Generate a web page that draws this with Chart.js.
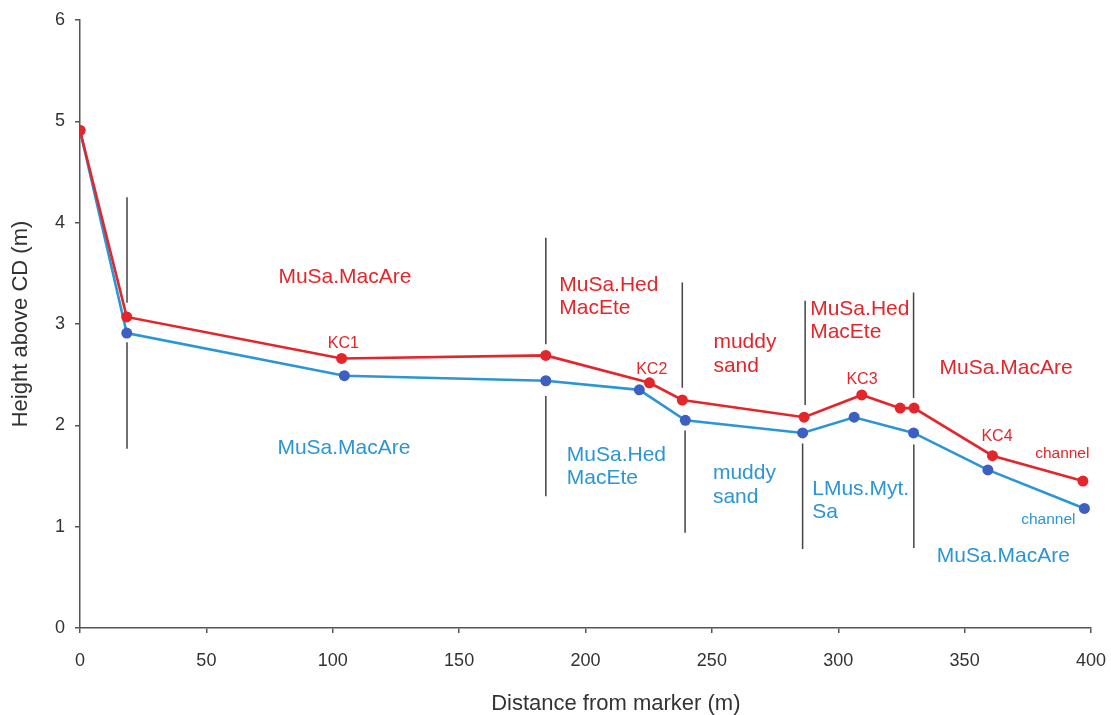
<!DOCTYPE html>
<html>
<head>
<meta charset="utf-8">
<script src="https://cdn.jsdelivr.net/npm/chart.js@4.4.1/dist/chart.umd.min.js"></script>
<style>
  html, body { margin: 0; padding: 0; background: #fff; }
  #wrap { width: 1111px; height: 715px; }
</style>
</head>
<body>
<div id="wrap"><canvas id="profile" width="1111" height="715"></canvas></div>
<script>
// two survey lines: distance from marker (m) and height above CD (m)
var redDist = [0, 18.5, 103.5, 184.3, 225.3, 238.3, 286.5, 309.3, 324.5, 330, 361, 396.8];
var redHeight = [4.91, 3.07, 2.66, 2.69, 2.42, 2.25, 2.08, 2.30, 2.17, 2.17, 1.70, 1.45];
var blueDist = [0, 18.5, 104.6, 184.3, 221.3, 239.5, 285.9, 306.3, 329.8, 359.2, 397.4];
var blueHeight = [4.91, 2.91, 2.49, 2.44, 2.35, 2.05, 1.925, 2.08, 1.925, 1.56, 1.18];

// vertical zone dividers (upper part above red line, lower part below blue line)
var sepUpperX = [18.6, 184.3, 238.3, 286.9, 329.8];
var sepUpperTop = [4.25, 3.85, 3.41, 3.23, 3.31];
var sepUpperBottom = [3.21, 2.80, 2.37, 2.20, 2.27];
var sepLowerX = [18.6, 184.3, 239.4, 285.9, 329.9];
var sepLowerTop = [2.82, 2.29, 1.95, 1.82, 1.81];
var sepLowerBottom = [1.77, 1.30, 0.94, 0.78, 0.79];

// habitat labels (left edge x, first line centre y, in data units)
var redZoneText = ['MuSa.MacAre', 'MuSa.Hed\nMacEte', 'muddy\nsand', 'MuSa.Hed\nMacEte', 'MuSa.MacAre'];
var redZoneX = [78.5, 189.6, 250.6, 288.9, 340.1];
var redZoneY = [3.478, 3.406, 2.836, 3.169, 2.582];
var blueZoneText = ['MuSa.MacAre', 'MuSa.Hed\nMacEte', 'muddy\nsand', 'LMus.Myt.\nSa', 'MuSa.MacAre'];
var blueZoneX = [78.1, 192.6, 250.4, 289.7, 339.0];
var blueZoneY = [1.798, 1.728, 1.546, 1.392, 0.726];

// core sample labels (centred)
var coreText = ['KC1', 'KC2', 'KC3', 'KC4'];
var coreX = [104.2, 226.2, 309.4, 362.8];
var coreY = [2.83, 2.567, 2.467, 1.908];

// channel labels (left edge)
var channelText = ['channel', 'channel'];
var channelX = [377.9, 372.4];
var channelY = [1.737, 1.086];

var xTitle = 'Distance from marker (m)';
var xTitleCentre = 212;

var redColor = '#e3262b';
var blueLine = '#2b95d5';
var blueDot = '#3d5fc1';
var fontFam = '"Liberation Sans", Arial, Helvetica, sans-serif';

function toPoints(xs, ys) {
  return xs.map(function(x, i) { return {x: x, y: ys[i]}; });
}

var datasets = [
  {
    label: 'red',
    data: toPoints(redDist, redHeight),
    borderColor: redColor,
    backgroundColor: redColor,
    pointBackgroundColor: redColor,
    borderWidth: 2.6,
    pointRadius: 5.5,
    pointBorderWidth: 0,
    tension: 0
  },
  {
    label: 'blue',
    data: toPoints(blueDist, blueHeight),
    borderColor: blueLine,
    backgroundColor: blueDot,
    pointBackgroundColor: blueDot,
    borderWidth: 2.6,
    pointRadius: 5.5,
    pointBorderWidth: 0,
    tension: 0
  }
];

sepUpperX.forEach(function(x, i) {
  datasets.push({
    label: 'sepU' + i,
    data: [{x: x, y: sepUpperTop[i]}, {x: x, y: sepUpperBottom[i]}],
    borderColor: '#444',
    borderWidth: 1.5,
    pointRadius: 0
  });
});
sepLowerX.forEach(function(x, i) {
  datasets.push({
    label: 'sepL' + i,
    data: [{x: x, y: sepLowerTop[i]}, {x: x, y: sepLowerBottom[i]}],
    borderColor: '#444',
    borderWidth: 1.5,
    pointRadius: 0
  });
});

// draws the text annotations at data positions
var labelPlugin = {
  id: 'zoneLabels',
  afterDatasetsDraw: function(chart) {
    var ctx = chart.ctx;
    var xs = chart.scales.x, ys = chart.scales.y;
    ctx.save();
    ctx.textBaseline = 'middle';

    function block(texts, xv, yv, color, size, align) {
      ctx.fillStyle = color;
      ctx.font = size + 'px ' + fontFam;
      ctx.textAlign = align;
      texts.forEach(function(t, i) {
        var px = xs.getPixelForValue(xv[i]);
        var py = ys.getPixelForValue(yv[i]) + 2;
        t.split('\n').forEach(function(line, j) {
          ctx.fillText(line, px, py + j * 23.4);
        });
      });
    }
    block(redZoneText, redZoneX, redZoneY, redColor, 21, 'left');
    block(blueZoneText, blueZoneX, blueZoneY, blueLine, 21, 'left');
    block(coreText, coreX, coreY, redColor, 16, 'center');
    block([channelText[0]], [channelX[0]], [channelY[0]], redColor, 15.5, 'left');
    block([channelText[1]], [channelX[1]], [channelY[1]], blueLine, 15.5, 'left');

    // x axis title sits a little right of the axis centre in the original
    ctx.fillStyle = '#333';
    ctx.font = '22px ' + fontFam;
    ctx.textAlign = 'center';
    ctx.textBaseline = 'middle';
    ctx.fillText(xTitle, xs.getPixelForValue(xTitleCentre), chart.height - 11);
    ctx.restore();
  }
};

new Chart(document.getElementById('profile'), {
  type: 'line',
  data: { datasets: datasets },
  plugins: [labelPlugin],
  options: {
    responsive: false,
    animation: false,
    events: [],
    layout: { padding: { top: 20, right: 20, left: 0, bottom: 0 } },
    plugins: {
      legend: { display: false },
      tooltip: { enabled: false }
    },
    scales: {
      x: {
        type: 'linear',
        min: 0,
        max: 400,
        afterFit: function(s) {
          s.height = 87;
          s.paddingLeft = 0;
          s.paddingRight = 0;
        },
        ticks: {
          stepSize: 50,
          padding: 17,
          color: '#333',
          font: { size: 18, family: fontFam }
        },
        grid: { drawOnChartArea: false, drawTicks: true, tickLength: 5, color: '#555', lineWidth: 1.5 },
        border: { display: true, color: '#555', width: 1.5 },
        title: { display: false }
      },
      y: {
        type: 'linear',
        min: 0,
        max: 6,
        afterFit: function(s) {
          s.width = 80;
          s.paddingTop = 0;
          s.paddingBottom = 0;
        },
        ticks: {
          stepSize: 1,
          padding: 10,
          color: '#333',
          font: { size: 18, family: fontFam }
        },
        grid: { drawOnChartArea: false, drawTicks: true, tickLength: 5, color: '#555', lineWidth: 1.5 },
        border: { display: true, color: '#555', width: 1.5 },
        title: {
          display: true,
          text: 'Height above CD (m)',
          color: '#333',
          padding: { top: 8, bottom: 0 },
          font: { size: 22, family: fontFam, lineHeight: 1.2 }
        }
      }
    }
  }
});
</script>
</body>
</html>
